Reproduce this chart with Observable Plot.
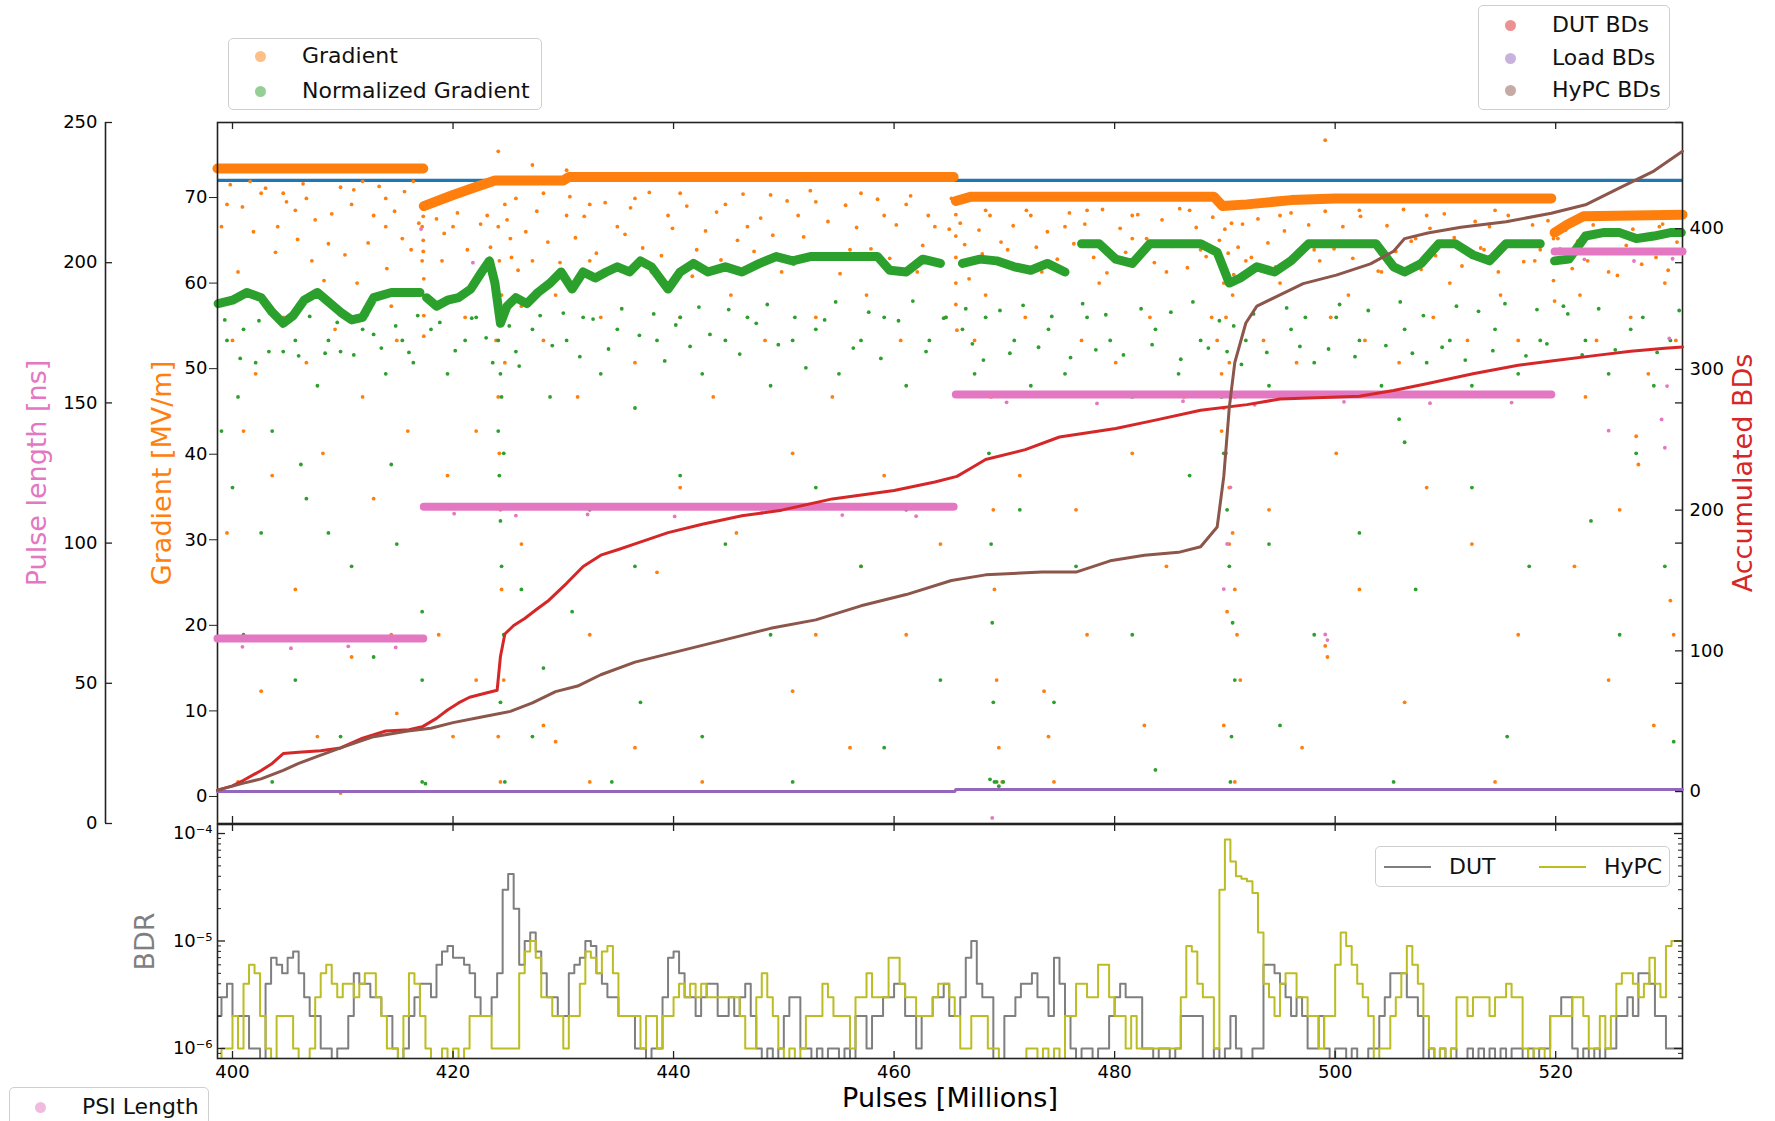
<!DOCTYPE html>
<html>
<head>
<meta charset="utf-8">
<script src="https://cdn.jsdelivr.net/npm/d3@7"></script>
<script src="https://cdn.jsdelivr.net/npm/@observablehq/plot@0.6"></script>
<style>
  html, body { margin:0; padding:0; background:#fff; }
  #wrap { position:relative; width:1775px; height:1121px; overflow:hidden; font-family:"DejaVu Sans", sans-serif; }
  #wrap svg { position:absolute; left:0; top:0; }
  .legend { position:absolute; border:1.5px solid #cfcfcf; border-radius:5px; background:rgba(255,255,255,0.85); font-size:22px; color:#111; box-sizing:border-box; }
  .row { position:absolute; left:0; height:30px; line-height:30px; white-space:nowrap; }
  .dot { position:absolute; width:11px; height:11px; border-radius:50%; top:10px; }
  .lab { position:absolute; top:0; }
  .ln { position:absolute; height:2px; top:14px; }
</style>
</head>
<body>
<div id="wrap"></div>
<script>
// ---------------- axis settings ----------------
const xDomain = [398.64, 531.5];
const xTicks = [400, 420, 440, 460, 480, 500, 520];
const gradDomain = [-3.16, 78.77];
const gradTicks = [0, 10, 20, 30, 40, 50, 60, 70];
const pulseDomain = [0, 250];
const pulseTicks = [0, 50, 100, 150, 200, 250];
const bdDomain = [-22.7, 475.5];
const bdTicks = [0, 100, 200, 300, 400];
const bdrDomainExp = [-6.0935, -3.916];
const bdrMajor = [1e-6, 1e-5, 1e-4];
const bdrMajorLabels = ["10\u207B\u2076", "10\u207B\u2075", "10\u207B\u2074"];
const bdrMinor = [9e-7, 2e-6, 3e-6, 4e-6, 5e-6, 6e-6, 7e-6, 8e-6, 9e-6, 2e-5, 3e-5, 4e-5, 5e-5, 6e-5, 7e-5, 8e-5, 9e-5];

// ---------------- data ----------------
const targetGradient = 72.0;

// gradient band segments [pulses(M), MV/m]
const gradBandSegments = [
  [[398.64, 73.4], [417.3, 73.4]],
  [[417.35, 69.0], [420, 70.3], [422, 71.2], [423.8, 72.0], [430, 72.0], [430.5, 72.4], [465.4, 72.4]],
  [[465.6, 69.6], [467, 70.1], [489, 70.1], [489.8, 69.0], [492, 69.2], [496, 69.7], [500, 69.9], [519.6, 69.9]],
  [[519.9, 65.9], [521, 66.8], [522.5, 67.8], [531.5, 68.0]]
];

// normalized gradient band [pulses, MV/m]
const normBandSegments = [
  [[398.7,57.6],[400.0,58.0],[401.3,58.9],[402.6,58.3],[403.6,56.6],[404.6,55.3],[405.5,56.2],[406.5,58.0],[407.7,58.9],[409.8,56.6],[410.8,55.7],[411.8,56.0],[412.8,58.3],[414.4,58.9],[415.9,58.9],[417.0,58.9]],
  [[417.6,58.3],[418.5,57.3],[419.5,58.0],[420.5,58.3],[421.6,59.3],[422.6,61.3],[423.3,62.6],[423.8,60.0],[424.3,55.3],[424.9,57.3],[425.7,58.3],[426.7,57.6],[427.7,58.9],[428.8,60.0],[429.8,61.3],[430.8,59.3],[431.8,61.3],[432.9,60.6],[433.9,61.3],[434.9,61.9],[436.0,61.3],[437.0,62.6],[438.0,61.9],[439.5,59.3],[440.6,61.3],[441.8,62.3],[443.1,61.3],[444.7,61.9],[446.2,61.3],[447.8,62.3],[449.3,63.1],[450.8,62.6],[452.4,63.1],[454.0,63.1],[455.5,63.1],[457.0,63.1],[458.5,63.1],[459.6,61.5],[461.1,61.3],[462.6,62.8],[464.2,62.3]],
  [[466.2,62.3],[467.8,62.8],[469.3,62.6],[470.9,61.9],[472.4,61.5],[473.9,62.3],[475.5,61.3]],
  [[477.0,64.6],[478.6,64.6],[480.1,62.8],[481.6,62.3],[483.2,64.6],[484.7,64.6],[486.3,64.6],[487.8,64.6],[489.3,63.6],[490.4,60.0],[491.4,60.6],[492.9,61.9],[494.5,61.3],[496.0,62.6],[497.6,64.6],[499.1,64.6],[500.6,64.6],[502.2,64.6],[503.7,64.6],[505.3,61.9],[506.3,61.3],[507.8,62.3],[509.4,64.6],[510.9,64.6],[512.5,63.3],[514.0,62.6],[515.5,64.6],[517.1,64.6],[518.6,64.6]],
  [[519.9,62.6],[521.2,62.8],[522.7,65.5],[524.3,65.9],[525.8,65.9],[527.3,65.2],[528.9,65.5],[530.4,65.9],[531.4,65.9]]
];

// gradient outliers [pulses, MV/m]
const gradOutliers = [
[399.5,69.2],[400.5,61.3],[402.6,70.5],[404.1,66.6],[405.7,68.5],[407.2,62.6],[408.7,64.6],[409.8,71.2],[411.3,60.0],[412.8,67.9],[413.9,69.9],[414.4,57.3],[415.4,65.2],[416.4,71.9],[400.0,53.3],[402.1,49.4],[404.6,56.0],[406.7,50.7],[409.3,54.6],[411.8,46.7],[414.9,53.3],[401.0,42.7],[403.6,37.5],[408.2,40.1],[412.8,34.8],[415.9,42.7],[399.5,30.8],[405.7,24.2],[410.8,16.3],[414.4,18.9],[402.6,12.3],[407.7,7.0],[414.9,9.7],[400.5,1.7],[409.8,0.4],[404.6,70.5],[411.8,71.9],[399.0,66.6],[406.7,69.9],[413.9,66.6],[410.8,69.2],[401.6,71.9],
[417.2,69.2],[417.2,66.6],[417.2,62.6],[417.3,58.6],
[418.0,69.2],[419.0,62.6],[420.0,66.6],[421.1,56.0],[422.1,60.0],[423.1,67.9],[423.9,53.3],[424.1,46.7],[424.2,40.1],[424.3,33.5],[424.4,24.2],[424.6,13.6],[424.1,7.0],[424.3,1.7],[424.1,66.6],[424.2,62.6],[424.4,58.6],[424.7,69.2],[424.7,50.7],[424.1,56.0],
[425.2,65.2],[426.2,57.3],[427.2,62.6],[428.2,53.3],[429.3,58.6],[430.3,67.9],[431.3,46.7],[432.4,62.6],[433.4,56.0],[434.9,66.6],[436.5,50.7],[438.0,61.3],[439.5,67.9],[440.6,56.0],[442.1,63.9],[443.6,46.7],[445.2,58.6],[446.7,66.6],[448.3,53.3],[449.8,61.3],[451.3,67.9],[452.9,56.0],[454.4,46.7],[456.0,63.9],[457.5,58.6],[459.1,67.9],[460.6,53.3],[462.1,61.3],[463.7,66.6],[464.7,56.0],
[419.5,37.5],[426.2,29.5],[432.4,18.9],[428.2,8.3],[436.5,5.7],[442.6,1.7],[450.8,12.3],[456.0,5.7],[461.1,18.9],[464.2,29.5],[440.6,36.1],[450.8,40.1],[459.1,37.5],[422.1,42.7],[430.3,73.2],[424.1,75.4],[427.2,73.8],[429.3,6.4],[432.4,1.7],[438.5,26.2],[445.7,30.8],[457.0,26.9],[452.9,18.9],[422.1,13.6],[418.7,18.9],[420.0,7.0],
[425.7,69.9],[428.2,70.5],[432.4,69.2],[436.5,69.9],[440.6,70.5],[444.7,69.2],[448.8,70.3],[452.9,69.5],[457.0,70.5],[461.1,69.2],[465.2,69.9],
[466.2,62.6],[467.3,53.3],[468.3,58.6],[468.8,46.7],[469.0,33.5],[469.1,24.2],[469.3,13.6],[469.5,5.7],[469.8,1.7],[470.3,63.9],[471.9,56.0],[473.4,61.3],[473.6,12.3],[474.0,7.0],[474.5,1.7],[475.5,66.6],[477.0,53.3],[478.6,60.0],[480.1,50.7],[481.6,65.2],[483.2,56.0],[484.7,61.3],[486.3,46.7],[487.8,63.9],[488.8,56.0],[489.3,53.3],[489.7,49.4],[489.9,45.4],[490.1,40.1],[490.4,36.1],[490.7,30.8],[490.9,24.2],[491.1,18.9],[491.4,13.6],[489.9,8.3],[490.9,1.7],[489.9,60.0],[490.1,56.0],[490.4,50.7],[490.7,58.6],[489.7,42.7],[490.9,46.7],[490.4,29.5],[490.2,21.6],
[491.9,62.6],[493.5,53.3],[495.0,60.0],[496.5,50.7],[498.1,63.9],[499.1,17.6],[499.3,16.3],[499.6,56.0],[501.2,58.6],[502.7,53.3],[504.2,61.3],[505.8,50.7],[507.3,65.2],[508.9,56.0],[510.4,60.0],[512.0,53.3],[513.5,63.9],[515.0,58.6],[516.6,53.3],[518.1,62.6],
[471.4,37.5],[476.5,33.5],[481.6,40.1],[484.7,26.9],[494.0,33.5],[500.1,40.1],[502.2,24.2],[508.3,36.1],[512.4,29.5],[516.6,18.9],[477.5,18.9],[482.7,8.3],[497.0,5.7],[506.3,11.0],[514.5,1.7],[499.1,76.7],
[468.3,68.5],[472.4,67.9],[477.5,68.5],[481.6,67.9],[486.8,68.5],[495.0,67.9],[502.2,68.5],[508.3,67.9],[514.5,68.5],
[520.7,62.6],[522.2,58.6],[523.7,53.3],[524.8,61.3],[526.8,56.0],[528.4,49.4],[529.9,60.0],[530.9,53.3],[527.3,42.1],[527.5,38.8],[529.4,66.6],[522.7,46.7],[525.8,33.5],[530.4,22.9],[530.7,18.9],[528.9,8.3],[524.8,13.6],[521.7,26.9],[520.2,65.2]
];
// dense cloud of gradient points just under the band
const gradFringe = [
[399.8,71.5],[400.9,68.9],[401.9,66.0],[403.0,71.1],[403.9,63.6],[404.9,69.5],[405.9,65.1],[406.4,71.6],[407.5,67.4],[408.3,60.3],[409.0,68.1],[410.2,63.3],[411.0,70.9],[412.3,64.7],[413.3,71.3],[414.0,61.7],[414.7,68.4],[415.6,70.7],[416.2,63.9],[416.9,67.0],
[417.3,67.8],[417.3,65.0],[417.3,63.7],[417.35,60.5],[417.35,56.2],[417.35,53.8],
[418.5,67.5],[419.2,65.8],[420.4,68.2],[421.3,63.9],[422.5,66.9],[423.4,64.2],[424.9,67.4],[425.3,63.0],[425.9,61.5],[426.6,66.0],[427.6,68.4],[428.6,64.8],[429.7,62.4],[430.6,70.1],[431.1,65.3],[431.9,67.8],[433.0,63.5],[433.8,69.4],[434.4,61.9],[435.6,65.7],[436.1,68.8],[437.2,64.1],[437.8,70.6],[438.9,63.2],[439.9,66.4],[441.2,69.0],[441.7,60.8],[442.9,66.1],[443.9,68.3],[444.3,62.7],[445.8,65.0],[446.3,70.4],[447.3,63.7],[447.9,67.6],[449.0,65.6],[450.3,69.6],[450.9,62.2],[451.8,65.4],[452.4,70.8],[453.4,63.3],[454.0,67.2],[455.1,61.1],[455.6,69.1],[456.6,66.5],[457.9,64.0],[458.5,69.8],[459.6,62.9],[460.2,66.8],[461.5,70.2],[462.6,64.4],[463.1,67.9],[464.3,62.1],[465.0,66.3],
[465.6,68.0],[465.6,65.5],[465.6,63.0],[465.6,60.0],[465.6,57.5],[465.7,54.5],
[466.0,67.0],[466.4,64.5],[466.8,60.5],[467.7,66.2],[468.0,63.4],[468.7,67.9],[469.7,64.8],[470.8,66.7],[471.3,61.7],[472.0,68.5],[472.9,64.2],[473.9,66.0],[474.8,62.8],[475.9,68.2],[476.3,64.6],[477.3,66.9],[478.1,63.0],[478.9,68.6],[479.3,61.2],[480.5,66.4],[481.0,63.6],[482.1,68.0],[482.9,65.2],[483.6,62.4],[484.3,67.4],[485.2,64.3],[485.9,68.7],[486.6,61.8],[487.4,66.5],[488.3,63.1],[488.9,67.7],[489.5,65.0],[489.6,62.0],[490.0,66.3],[490.3,63.5],[490.6,67.0],[490.8,61.0],[491.2,64.2],[491.6,66.9],[492.4,63.0],[493.0,67.5],[493.9,64.7],[494.6,61.9],[495.4,66.1],[496.0,68.2],[496.9,63.4],[497.6,66.8],[498.6,62.6],[499.1,68.4],[499.9,64.0],[500.7,66.6],[501.6,62.9],[502.3,67.8],[503.1,64.5],[503.9,61.4],[504.7,66.7],[505.5,63.7],[506.2,68.6],[506.9,64.9],[507.8,61.6],[508.6,66.4],[509.1,63.2],[509.9,68.1],[510.8,65.3],[511.5,62.0],[512.7,67.2],[513.2,64.1],[514.0,66.6],[514.8,61.3],[515.7,67.9],[516.3,64.6],[517.1,62.5],[517.9,66.8],[518.6,63.9],[519.3,67.3],
[519.8,65.2],[519.8,62.8],[519.8,60.3],[519.9,57.9],
[520.4,64.0],[520.9,66.2],[521.5,61.7],[522.0,64.9],[522.9,62.6],[523.4,66.8],[524.1,63.5],[525.2,65.7],[525.6,60.9],[526.4,64.4],[527.0,66.3],[527.8,62.2],[528.6,65.2],[529.1,63.0],[529.7,66.9],[530.2,61.5],[531.0,64.8]
];

// normalized gradient outliers [pulses, MV/m]
const normOutliers = [
[399.5,53.3],[400.5,46.7],[402.1,50.7],[403.6,42.7],[405.7,53.3],[407.7,48.0],[409.8,52.0],[411.8,54.6],[413.9,49.4],[415.4,53.3],[400.0,36.1],[402.6,30.8],[406.7,34.8],[410.8,26.9],[414.9,29.5],[401.0,18.9],[405.7,13.6],[409.8,7.0],[412.8,16.3],[403.6,1.7],[399.0,42.7],[406.2,38.8],[408.7,30.8],[414.4,38.8],[416.4,50.7],[417.2,21.6],[417.2,13.6],[417.2,1.7],[417.5,1.5],[401.0,54.6],[404.6,52.0],[408.7,53.3],[412.8,54.0],
[418.0,54.6],[419.5,49.4],[421.1,53.3],[422.1,56.0],[423.6,50.7],[424.1,42.7],[424.2,37.5],[424.3,32.2],[424.4,26.9],[424.6,18.9],[424.3,11.0],[424.7,1.7],[424.1,53.3],[424.3,49.4],[424.4,46.7],[424.6,40.1],
[425.7,52.0],[427.2,54.6],[428.8,46.7],[430.3,53.3],[431.8,56.0],[433.4,49.4],[434.9,54.6],[436.5,45.4],[438.5,53.3],[440.6,56.0],[442.6,49.4],[444.7,53.3],[446.7,56.0],[448.8,48.0],[450.8,53.3],[452.9,54.6],[455.0,49.4],[457.0,53.3],[459.1,56.0],[461.1,48.0],[463.2,53.3],[464.7,56.0],
[426.2,24.2],[428.2,15.0],[432.4,33.5],[436.5,26.9],[440.6,37.5],[444.7,29.5],[448.8,18.9],[452.9,36.1],[457.0,26.9],[461.1,33.5],[464.2,13.6],[427.2,7.0],[434.4,1.7],[442.6,7.0],[450.8,1.7],[459.1,5.7],[430.8,21.6],[437.0,11.0],
[466.2,54.6],[467.3,49.4],[468.3,56.0],[468.6,40.1],[468.8,29.5],[468.9,20.3],[469.0,11.0],[469.1,1.7],[469.3,1.7],[468.7,2.0],[469.5,1.2],[469.9,1.7],[470.9,53.3],[472.4,48.0],[474.0,54.6],[475.5,49.4],[477.5,56.0],[479.6,53.3],[481.6,46.7],[483.7,54.6],[485.8,49.4],[487.8,53.3],[489.7,46.7],[489.9,40.1],[490.2,33.5],[490.4,26.9],[490.7,20.3],[490.9,13.6],[490.6,7.0],[490.5,1.7],
[491.9,53.3],[494.0,48.0],[496.0,54.6],[498.1,50.7],[500.1,56.0],[502.2,53.3],[504.2,48.0],[506.3,54.6],[508.3,50.7],[510.4,53.3],[512.4,48.0],[514.5,54.6],[516.6,49.4],[518.6,53.3],
[471.4,33.5],[476.5,26.9],[481.6,18.9],[486.8,37.5],[494.0,29.5],[498.1,18.9],[502.2,30.8],[507.3,24.2],[512.4,36.1],[517.6,26.9],[474.5,11.0],[483.7,3.1],[495.0,8.3],[505.3,1.7],[515.6,7.0],[505.8,44.1],[506.3,41.4],
[520.7,57.3],[522.7,53.3],[524.8,49.4],[526.8,54.6],[528.9,48.0],[530.4,53.3],[527.3,40.1],[523.2,32.2],[529.9,26.9],[525.8,18.9],[530.7,6.4]
];
const normFringe = [
[399.3,55.7],[400.7,51.2],[402.4,55.6],[403.3,52.0],[405.0,55.9],[406.0,51.5],[407.0,56.1],[408.4,51.8],[409.5,55.4],[411.0,51.6],[412.2,56.3],[413.5,52.4],[414.8,55.0],[416.0,51.9],[416.8,56.2],
[418.8,55.4],[420.2,52.1],[421.7,55.9],[423.0,53.6],[425.1,55.0],[426.0,50.3],[427.9,56.2],[429.0,52.7],[430.0,56.5],[431.5,51.4],[432.7,55.8],[434.1,52.3],[435.3,57.0],[436.9,53.9],[438.2,56.4],[439.2,50.9],[440.2,55.1],[441.5,52.6],[442.3,57.2],[443.3,54.0],[445.0,56.9],[446.0,51.7],[447.5,55.3],[448.5,57.5],[449.5,52.8],[451.0,56.0],[452.0,50.1],[453.7,55.7],[454.7,57.8],[456.3,52.4],[457.7,56.6],[458.8,51.2],[460.4,55.6],[461.7,57.9],[462.9,52.0],[464.5,55.9],
[466.5,57.0],[467.1,52.9],[468.1,51.0],[469.6,56.8],[470.5,51.8],[471.7,57.4],[473.1,52.5],[474.3,56.1],[476.0,51.3],[477.1,57.6],[478.3,52.2],[479.2,56.3],[480.8,51.6],[482.4,57.0],[483.4,52.8],[485.1,56.6],[486.0,51.1],[487.1,57.8],[488.5,52.4],[489.5,55.6],[490.2,52.0],[490.8,55.0],[491.5,50.5],[492.6,56.4],[493.8,51.9],[495.6,57.1],[496.8,52.6],[497.3,56.0],[499.4,52.3],[500.4,57.5],[501.8,51.4],[503.0,56.8],[504.6,52.7],[505.9,57.8],[507.0,51.8],[508.0,56.2],[509.7,52.5],[511.0,57.3],[511.8,51.0],[513.0,56.7],[514.3,52.1],[515.4,57.6],[517.3,51.5],[518.3,56.9],[519.2,52.9],
[521.1,56.4],[522.4,51.6],[523.9,57.0],[525.4,52.2],[527.9,56.0],[529.2,51.9],[531.2,56.8]
];

// pulse length (ns) segments
const pulseSegments = [
  [[398.64, 66], [417.3, 66]],
  [[417.35, 113], [465.4, 113]],
  [[465.6, 153], [519.6, 153]],
  [[519.9, 204], [531.5, 204]]
];
const pulseOutliers = [[489.9,83.6],[490.2,99.7],[490.5,119.9],[468.9,2.0],[499.1,67.4],[499.3,65.4],[524.8,140.1],[529.6,144.1],[529.9,134.0],[417.1,212],[421.8,200],[530.3,173],[530.1,156],
[400.9,63],[405.3,62.5],[410.5,63.2],[414.8,62.8],[420.1,110.5],[425.7,109.8],[432.2,110.2],[440.1,109.5],[448.0,110.8],[455.3,110.0],[462.0,109.6],[470.2,150.2],[478.4,149.8],[486.2,150.6],[492.7,149.3],[500.8,150.4],[508.6,149.9],[516.0,150.1],[522.6,201.2],[527.1,200.6],[530.6,201.4]];

// accumulated BDs
const dutAccum = [[398.64,1],[400,4],[401,8],[402.6,15],[403.6,20],[404.6,27],[406,28],[408,29],[409.8,31],[411.8,38],[413.9,43],[416,44],[417.2,46],[418.5,52],[419.5,58],[420.5,63],[421.5,67],[423,70],[424,72],[424.3,96],[424.7,112],[425.5,118],[426.5,123],[427.5,129],[428.7,136],[430.3,148],[431.8,160],[433.4,168],[435,172],[436.5,176],[439.5,184],[442.6,190],[446.2,196],[449.8,200],[454.4,208],[460,214],[463.7,220],[465.7,224],[467,230],[468.3,236],[471.9,243],[475,252],[480.1,258],[483.7,264],[487.8,271],[492,275],[495,279],[502.2,281],[505.3,285],[508.4,290],[512.5,297],[516.6,303],[519.6,306],[523.7,310],[526.8,313],[529.9,315],[531.5,316]];
const hypcAccum = [[398.64,1],[401,6],[402.6,9],[404.6,15],[406,20],[407.7,25],[409.8,31],[412.8,39],[415.9,43],[418,45],[420,49],[422.6,53],[425.2,57],[427.2,63],[429.3,71],[431.3,75],[433.4,83],[436.5,92],[440.6,100],[444.7,108],[448.8,116],[452.9,122],[457,132],[461.1,140],[465.2,150],[468.3,154],[473.4,156],[476.5,156],[479.6,164],[482.7,168],[485.8,170],[487.8,174],[489.3,188],[489.9,224],[490.4,273],[490.9,305],[491.9,333],[492.9,345],[495,353],[497.1,361],[500.1,367],[503.2,375],[505.3,384],[506.3,393],[508.4,397],[511.4,401],[515.5,405],[519.6,411],[522.7,417],[525.8,429],[528.9,441],[531.5,455]];
const loadAccum = [[398.64,0],[465.5,0],[465.6,1.5],[531.5,1.5]];

// BDR: counts per 1e-6 in 0.5M-pulse bins starting at 398.5
const bdrBinStart = 398.5, bdrBinWidth = 0.5, bdrUnit = 1e-6;
const bdrDUT = [
2,3,4,2,2,2,1,1,0,4, 7,6,5,7,8,5,3,2,2,1, 1,0,1,1,2,5,4,4,3,3, 2,2,1,0,1,2,3,4,4,3,
6,8,9,7,7,6,5,3,2,2, 3,5,30,42,20,6,10,12,8,5, 3,3,2,2,5,6,7,10,9,5, 4,3,3,2,2,2,1,1,0,1,
1,3,7,8,5,3,3,2,3,4, 4,2,2,3,2,3,4,2,1,0, 1,0,1,2,3,3,1,1,0,1, 0,1,1,0,1,0,2,2,1,2,
2,3,3,4,4,2,2,1,2,2, 3,3,4,2,2,3,7,10,4,3, 3,0,0,2,2,3,4,4,5,3, 3,2,7,4,2,1,0,1,1,0,
1,1,2,3,4,3,3,3,1,1, 0,1,1,0,1,2,2,2,2,0, 0,1,0,1,2,1,0,0,1,1, 6,6,5,4,3,2,3,2,1,1,
2,1,0,1,1,0,1,0,0,1, 1,2,3,5,5,5,3,3,2,0, 1,0,1,0,1,0,0,1,0,1, 0,1,0,1,0,1,1,0,1,0,
1,1,2,2,3,3,1,0,1,0, 1,0,1,1,2,2,3,2,5,5, 4,2,2,1,1,1
];
const bdrHyPC = [
0,1,1,2,1,4,6,5,2,1, 0,2,2,2,1,0,0,1,3,5, 6,4,3,4,4,3,4,5,5,3, 2,1,1,0,2,5,4,2,1,0,
0,1,0,1,0,1,2,2,2,2, 1,1,1,1,1,5,8,10,7,3, 3,2,2,1,2,2,4,8,7,5, 8,9,5,2,2,2,2,1,2,2,
1,2,2,3,4,3,4,3,4,3, 3,3,3,3,3,2,1,1,3,5, 3,2,1,0,1,0,1,2,2,2, 4,3,2,2,2,1,3,3,5,3,
3,3,7,7,4,3,3,2,2,2, 3,4,4,3,2,1,1,2,2,2, 1,1,0,0,0,0,0,1,1,0, 1,0,1,0,2,2,4,4,3,3,
6,6,3,2,2,1,2,1,1,1, 1,1,1,1,1,3,9,8,4,3, 3,1,30,88,55,40,38,36,28,12, 4,3,2,4,5,5,3,3,2,2,
1,2,2,6,12,9,6,4,3,2, 0,1,1,2,3,5,9,6,4,2, 1,0,1,0,1,3,3,2,3,3, 3,2,3,3,4,3,3,1,0,1,
1,0,2,2,2,2,3,3,2,1, 1,2,1,2,4,5,5,4,3,4, 7,4,3,9,10,10
];

// ---------------- helpers ----------------
const W = 1775, H = 1121;
const ML = 217, MR = 93;
const TOP_T = 122, TOP_B = H - 823;
const BOT_T = 824, BOT_B = H - 1058;
const FW = W - ML - MR;
const FH_TOP = H - TOP_T - TOP_B;
const FH_BOT = H - BOT_T - BOT_B;
const FONT = "DejaVu Sans";
const ink = "#222";

function segRows(segs) {
  const rows = [];
  segs.forEach((s, i) => s.forEach(([p, v]) => rows.push({p, v, seg: i})));
  return rows;
}
function pairRows(arr) { return arr.map(([p, v]) => ({p, v})); }
function binRows(vals) {
  const rows = vals.map((c, i) => ({p: bdrBinStart + i * bdrBinWidth, c}));
  rows.push({p: bdrBinStart + vals.length * bdrBinWidth, c: vals[vals.length - 1]});
  return rows;
}
const baseStyle = {background: "transparent", overflow: "visible", maxWidth: "none", fontFamily: FONT, fontSize: "18px", color: "#000"};
const baseOpts = {width: W, height: H, marginLeft: ML, marginRight: MR, style: baseStyle};

const wrap = document.getElementById("wrap");

// ---------- gradient layer ----------
const gradPlot = Plot.plot({
  ...baseOpts, marginTop: TOP_T, marginBottom: TOP_B,
  x: {domain: xDomain, axis: null},
  y: {domain: gradDomain},
  marks: [
    Plot.ruleY([targetGradient], {stroke: "#1f77b4", strokeWidth: 3.2}),
    Plot.dot(pairRows(gradOutliers), {x: "p", y: "v", r: 1.9, fill: "#ff7f0e", stroke: null}),
    Plot.dot(pairRows(gradFringe), {x: "p", y: "v", r: 1.9, fill: "#ff7f0e", stroke: null}),
    Plot.line(segRows(gradBandSegments), {x: "p", y: "v", z: "seg", stroke: "#ff7f0e", strokeWidth: 10}),
    Plot.dot(pairRows(normOutliers), {x: "p", y: "v", r: 1.9, fill: "#2ca02c", stroke: null}),
    Plot.dot(pairRows(normFringe), {x: "p", y: "v", r: 1.9, fill: "#2ca02c", stroke: null}),
    Plot.line(segRows(normBandSegments), {x: "p", y: "v", z: "seg", stroke: "#2ca02c", strokeWidth: 9, strokeLinecap: "round", strokeLinejoin: "round"}),
    Plot.frame({stroke: ink, strokeWidth: 1.6}),
    Plot.axisY({ticks: gradTicks, tickSize: 8, tickPadding: 2, label: null, fontSize: 18, stroke: ink}),
    Plot.tickX(xTicks, {x: d => d, insetBottom: FH_TOP - 7, stroke: ink, strokeWidth: 1.3}),
    Plot.tickX(xTicks, {x: d => d, insetTop: FH_TOP - 7, stroke: ink, strokeWidth: 1.3}),
    Plot.text(["Gradient [MV/m]"], {frameAnchor: "left", dx: -55, rotate: -90, textAnchor: "middle", lineAnchor: "middle", fill: "#ff7f0e", fontSize: 27})
  ]
});
wrap.appendChild(gradPlot);

// ---------- pulse length layer ----------
const pulsePlot = Plot.plot({
  ...baseOpts, marginTop: TOP_T, marginBottom: TOP_B,
  x: {domain: xDomain, axis: null},
  y: {domain: pulseDomain},
  marks: [
    Plot.dot(pairRows(pulseOutliers), {x: "p", y: "v", r: 1.9, fill: "#e377c2", stroke: null}),
    Plot.line(segRows(pulseSegments), {x: "p", y: "v", z: "seg", stroke: "#e377c2", strokeWidth: 8}),
    Plot.ruleX([xDomain[0]], {dx: -112, stroke: ink, strokeWidth: 1.6}),
    Plot.tickY(pulseTicks, {y: d => d, dx: -112, insetRight: FW - 7, stroke: ink, strokeWidth: 1.3}),
    Plot.tickY(pulseTicks, {y: d => d, insetLeft: FW - 7, stroke: ink, strokeWidth: 1.3}),
    Plot.axisY({ticks: pulseTicks, tickSize: 0, tickPadding: 8, dx: -112, label: null, fontSize: 18}),
    Plot.text(["Pulse length [ns]"], {frameAnchor: "left", dx: -180, rotate: -90, textAnchor: "middle", lineAnchor: "middle", fill: "#e377c2", fontSize: 27})
  ]
});
wrap.appendChild(pulsePlot);

// ---------- accumulated BD layer ----------
const bdPlot = Plot.plot({
  ...baseOpts, marginTop: TOP_T, marginBottom: TOP_B,
  x: {domain: xDomain, axis: null},
  y: {domain: bdDomain},
  marks: [
    Plot.line(pairRows(loadAccum), {x: "p", y: "v", stroke: "#9467bd", strokeWidth: 3}),
    Plot.line(pairRows(dutAccum), {x: "p", y: "v", stroke: "#d62728", strokeWidth: 3}),
    Plot.line(pairRows(hypcAccum), {x: "p", y: "v", stroke: "#8c564b", strokeWidth: 3}),
    Plot.tickY(bdTicks, {y: d => d, insetLeft: FW - 7, stroke: ink, strokeWidth: 1.3}),
    Plot.axisY({anchor: "right", ticks: bdTicks, tickSize: 0, tickPadding: 7, label: null, fontSize: 18}),
    Plot.text(["Accumulated BDs"], {frameAnchor: "right", dx: 61, rotate: -90, textAnchor: "middle", lineAnchor: "middle", fill: "#d62728", fontSize: 27})
  ]
});
wrap.appendChild(bdPlot);

// ---------- BDR layer ----------
const bdrY = d => d.c > 0 ? d.c * bdrUnit : 1e-7;
const bdrPlot = Plot.plot({
  ...baseOpts, marginTop: BOT_T, marginBottom: BOT_B,
  x: {domain: xDomain},
  y: {type: "log", domain: [Math.pow(10, bdrDomainExp[0]), Math.pow(10, bdrDomainExp[1])]},
  marks: [
    Plot.line(binRows(bdrDUT), {x: "p", y: bdrY, curve: "step-after", stroke: "#7f7f7f", strokeWidth: 2, clip: true}),
    Plot.line(binRows(bdrHyPC), {x: "p", y: bdrY, curve: "step-after", stroke: "#bcbd22", strokeWidth: 2, clip: true}),
    Plot.frame({stroke: ink, strokeWidth: 1.6}),
    Plot.tickY(bdrMajor, {y: d => d, insetRight: FW - 8, stroke: ink, strokeWidth: 1.3}),
    Plot.tickY(bdrMinor, {y: d => d, insetRight: FW - 4, stroke: ink, strokeWidth: 1}),
    Plot.tickY(bdrMajor, {y: d => d, insetLeft: FW - 8, stroke: ink, strokeWidth: 1.3}),
    Plot.tickY(bdrMinor, {y: d => d, insetLeft: FW - 4, stroke: ink, strokeWidth: 1}),
    Plot.tickX(xTicks, {x: d => d, insetBottom: FH_BOT - 7, stroke: ink, strokeWidth: 1.3}),
    Plot.tickX(xTicks, {x: d => d, insetTop: FH_BOT - 7, stroke: ink, strokeWidth: 1.3}),
    Plot.axisY({ticks: bdrMajor, tickFormat: d => bdrMajorLabels[bdrMajor.indexOf(d)], tickSize: 0, tickPadding: 5, label: null, fontSize: 18}),
    Plot.axisX({ticks: xTicks, tickSize: 0, tickPadding: 7, label: null, fontSize: 18}),
    Plot.text(["BDR"], {frameAnchor: "left", dx: -72, rotate: -90, textAnchor: "middle", lineAnchor: "middle", fill: "#7f7f7f", fontSize: 27}),
    Plot.text(["Pulses [Millions]"], {frameAnchor: "bottom", dy: 40, textAnchor: "middle", lineAnchor: "middle", fill: "#000", fontSize: 27})
  ]
});
wrap.appendChild(bdrPlot);

// ---------- legends ----------
function legendBox(left, top, w, h, items) {
  const box = document.createElement("div");
  box.className = "legend";
  Object.assign(box.style, {left: left + "px", top: top + "px", width: w + "px", height: h + "px"});
  items.forEach(it => {
    const row = document.createElement("div");
    row.className = "row";
    row.style.top = it.top + "px";
    row.style.width = "100%";
    if (it.dot) {
      const d = document.createElement("span");
      d.className = "dot";
      Object.assign(d.style, {left: it.dotX + "px", background: it.dot});
      row.appendChild(d);
    }
    if (it.line) {
      const l = document.createElement("span");
      l.className = "ln";
      Object.assign(l.style, {left: it.lineX + "px", width: it.lineW + "px", background: it.line});
      row.appendChild(l);
    }
    const t = document.createElement("span");
    t.className = "lab";
    t.style.left = it.textX + "px";
    t.textContent = it.text;
    row.appendChild(t);
    box.appendChild(row);
  });
  wrap.appendChild(box);
}
legendBox(228, 38, 314, 72, [
  {top: 2, dot: "#ffbf86", dotX: 26, textX: 73, text: "Gradient"},
  {top: 37, dot: "#95cf95", dotX: 26, textX: 73, text: "Normalized Gradient"}
]);
legendBox(1478, 5, 192, 105, [
  {top: 4, dot: "#ea9293", dotX: 26, textX: 73, text: "DUT BDs"},
  {top: 37, dot: "#c9b3de", dotX: 26, textX: 73, text: "Load BDs"},
  {top: 69, dot: "#c5aaa5", dotX: 26, textX: 73, text: "HyPC BDs"}
]);
legendBox(9, 1087, 200, 60, [
  {top: 4, dot: "#f1bbe0", dotX: 25, textX: 72, text: "PSI Length"}
]);
legendBox(1375, 846, 295, 41, [
  {top: 5, line: "#7f7f7f", lineX: 8, lineW: 47, textX: 73, text: "DUT"},
  {top: 5, line: "#bcbd22", lineX: 163, lineW: 47, textX: 228, text: "HyPC"}
]);
</script>
</body>
</html>
